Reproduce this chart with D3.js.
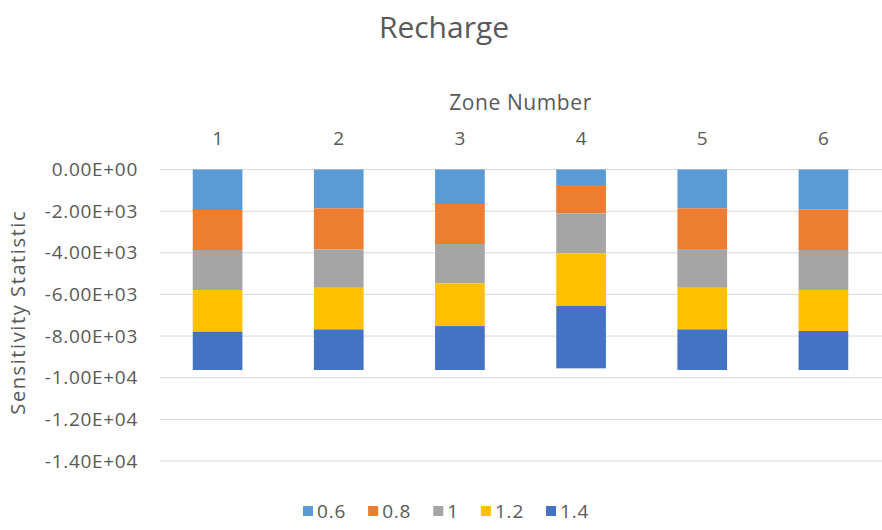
<!DOCTYPE html>
<html>
<head>
<meta charset="utf-8">
<script src="https://cdn.jsdelivr.net/npm/d3@7"></script>
<style>
  html, body { margin: 0; padding: 0; background: #fff; }
  svg { display: block; font-family: "Open Sans", "Noto Sans", sans-serif; }
</style>
</head>
<body>
<svg id="chart" width="882" height="530"></svg>
<script>
// Zones along the top axis
const zones = ["1", "2", "3", "4", "5", "6"];
// Recharge multiplier series (stack order)
const seriesNames = ["0.6", "0.8", "1", "1.2", "1.4"];
// Sensitivity statistic contributed by each multiplier, per zone
const s06 = [-1945, -1865, -1657, -745, -1865, -1913];
const s08 = [-1921, -1970, -1923, -1360, -1955, -1953];
const s10 = [-1922, -1845, -1890, -1920, -1860, -1922];
const s12 = [-2002, -2000, -2050, -2531, -2000, -1969];
const s14 = [-1840, -1950, -2110, -2994, -1950, -1873];
// Y axis ticks
const yTicks = [0, -2000, -4000, -6000, -8000, -10000, -12000, -14000];
const colors = ["#5B9BD5", "#ED7D31", "#A5A5A5", "#FFC000", "#4472C4"];

const seriesValues = [s06, s08, s10, s12, s14];
const rows = zones.map((z, i) => {
  const r = { zone: z };
  seriesNames.forEach((n, k) => { r[n] = seriesValues[k][i]; });
  return r;
});

const svg = d3.select("#chart");
const plot = { left: 157, right: 884, top: 169.5, bottom: 461 };
const textColor = "#595959";

const x = d3.scaleBand().domain(zones).range([plot.left, plot.right]).paddingInner(0.59).paddingOuter(0.295);
const y = d3.scaleLinear().domain([0, -14000]).range([plot.top, plot.bottom]);

// Title
svg.append("text")
  .attr("x", 444).attr("y", 38)
  .attr("text-anchor", "middle")
  .attr("font-size", 30).attr("fill", textColor)
  .text("Recharge");

// Horizontal gridlines
svg.append("g").selectAll("line").data(yTicks).join("line")
  .attr("x1", 160).attr("x2", plot.right)
  .attr("y1", d => y(d)).attr("y2", d => y(d))
  .attr("stroke", "#D9D9D9").attr("stroke-width", 1);

// Y axis labels in scientific notation
const fmt = v => {
  if (v === 0) return "0.00E+00";
  const e = Math.floor(Math.log10(Math.abs(v)));
  const m = v / Math.pow(10, e);
  return m.toFixed(2) + "E+" + String(e).padStart(2, "0");
};
const yAxis = d3.axisLeft(y).tickValues(yTicks).tickFormat(fmt).tickSize(0).tickPadding(0);
const gy = svg.append("g").attr("transform", "translate(138,0)").call(yAxis);
gy.select(".domain").remove();
gy.selectAll("text")
  .attr("font-size", 19).attr("fill", textColor)
  .attr("letter-spacing", 0.7)
  .attr("font-family", "'Open Sans', 'Noto Sans', sans-serif");

// Y axis title
svg.append("text")
  .attr("transform", `translate(25,${(plot.top + plot.bottom) / 2 - 3}) rotate(-90)`)
  .attr("text-anchor", "middle")
  .attr("font-size", 20).attr("fill", textColor)
  .attr("letter-spacing", 1.6)
  .text("Sensitivity Statistic");

// Top category axis
const xAxis = d3.axisTop(x).tickSize(0).tickPadding(0);
const gx = svg.append("g").attr("transform", "translate(0,145)").call(xAxis);
gx.select(".domain").remove();
gx.selectAll("text")
  .attr("dy", 0)
  .attr("font-size", 19).attr("fill", textColor)
  .attr("font-family", "'Open Sans', 'Noto Sans', sans-serif");

svg.append("text")
  .attr("x", (plot.left + plot.right) / 2).attr("y", 110)
  .attr("text-anchor", "middle")
  .attr("font-size", 21).attr("fill", textColor)
  .attr("letter-spacing", 0.6)
  .text("Zone Number");

// Stacked bars (diverging offset stacks negatives downward from zero)
const stack = d3.stack().keys(seriesNames).offset(d3.stackOffsetDiverging);
const layers = stack(rows);
svg.append("g").selectAll("g").data(layers).join("g")
  .attr("fill", (d, i) => colors[i])
  .selectAll("rect").data(d => d).join("rect")
  .attr("x", d => x(d.data.zone))
  .attr("width", x.bandwidth())
  .attr("y", d => Math.min(y(d[0]), y(d[1])))
  .attr("height", d => Math.abs(y(d[1]) - y(d[0])));

// Legend
const legend = svg.append("g").attr("transform", "translate(0,511)");
let lx = 303;
seriesNames.forEach((n, i) => {
  const g = legend.append("g").attr("transform", `translate(${lx},0)`);
  g.append("rect").attr("x", 0).attr("y", -5).attr("width", 10).attr("height", 10).attr("fill", colors[i]);
  const t = g.append("text").attr("x", 14).attr("y", 0).attr("dy", "0.36em")
    .attr("font-size", 19).attr("fill", textColor)
    .attr("letter-spacing", 0.8)
    .text(n);
  lx += 14 + t.node().getComputedTextLength() + 22;
});
</script>
</body>
</html>
